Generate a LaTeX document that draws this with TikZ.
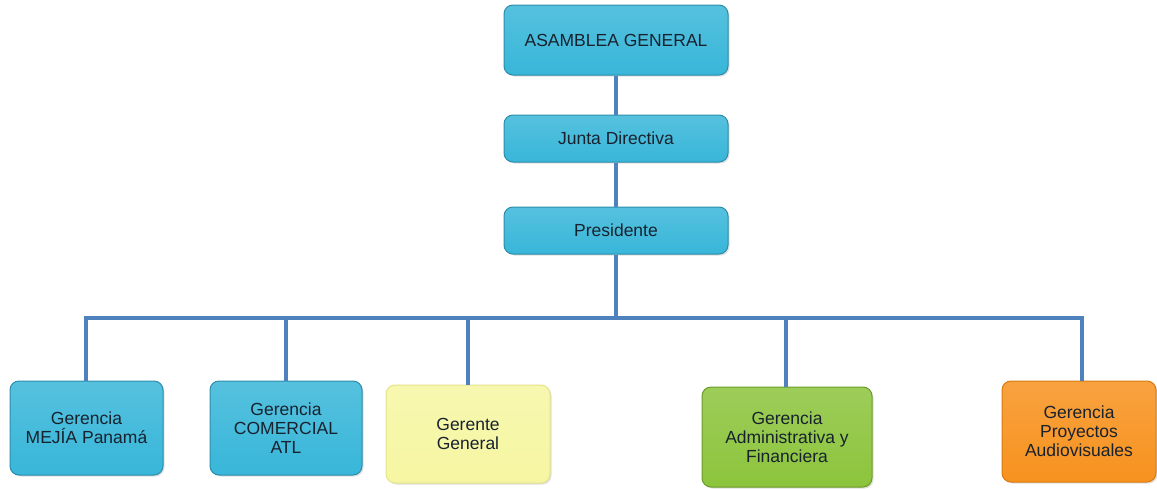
\documentclass[tikz,border=0pt]{standalone}
\usepackage{fontspec}
\setmainfont{Liberation Sans}
\usetikzlibrary{shadows}
\definecolor{bluefill}{HTML}{38B6D9}
\definecolor{blueedge}{HTML}{2A8EAB}
\definecolor{yelfill}{HTML}{F6F6A2}
\definecolor{yeledge}{HTML}{E4E48A}
\definecolor{grnfill}{HTML}{8CC43C}
\definecolor{grnedge}{HTML}{6C9C28}
\definecolor{orgfill}{HTML}{F7921E}
\definecolor{orgedge}{HTML}{D87A10}
\definecolor{linecol}{HTML}{4F81BD}
\definecolor{txt}{HTML}{18222E}
\tikzset{
  box/.style={rounded corners=9pt, draw=#1edge, line width=1pt, top color=#1fill!85!white, bottom color=#1fill,
    align=center, text=txt, font=\fontsize{17.5}{19}\selectfont, inner sep=2pt,
    drop shadow={shadow xshift=1.5pt, shadow yshift=-1.5pt, opacity=0.25}},
  conn/.style={draw=linecol, line width=4pt}
}
\begin{document}
\begin{tikzpicture}[x=1pt,y=-1pt]
\useasboundingbox (0,0) rectangle (1157,488);
\node[box=blue, minimum width=224pt, minimum height=70pt] (ag) at (616,40) {ASAMBLEA GENERAL};
\node[box=blue, minimum width=224pt, minimum height=47pt] (jd) at (616,138.5) {Junta Directiva};
\node[box=blue, minimum width=224pt, minimum height=47pt] (pr) at (616,230.5) {Presidente};
\node[box=blue, minimum width=153pt, minimum height=94pt] (g1) at (86.5,428) {Gerencia\\MEJÍA Panamá};
\node[box=blue, minimum width=152pt, minimum height=94pt] (g2) at (286,428) {Gerencia\\COMERCIAL\\ATL};
\node[box=yel, minimum width=164pt, minimum height=98pt] (g3) at (468,434) {Gerente\\General};
\node[box=grn, minimum width=170pt, minimum height=100pt] (g4) at (787,437) {Gerencia\\Administrativa y\\Financiera};
\node[box=org, minimum width=154pt, minimum height=101pt] (g5) at (1079,431.5) {Gerencia\\Proyectos\\Audiovisuales};
\coordinate (bar) at (616,318);
\draw[conn] (ag.south) -- (jd.north);
\draw[conn] (jd.south) -- (pr.north);
\draw[conn] (pr.south) -- (bar);
\draw[conn] (g1.north -| 86,0) |- (bar) -| (g5.north -| 1082,0);
\draw[conn] (g2.north) -- (g2.north |- bar);
\draw[conn] (g3.north) -- (g3.north |- bar);
\draw[conn] (g4.north -| 786,0) -- (786,318);
\end{tikzpicture}
\end{document}
